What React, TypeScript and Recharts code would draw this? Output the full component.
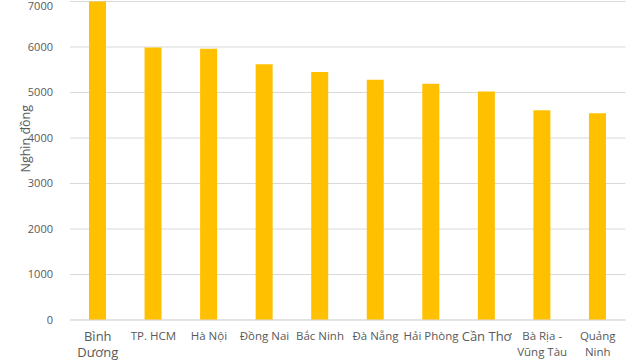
import { BarChart, Bar, XAxis, YAxis, CartesianGrid } from 'recharts';

// tỉnh / thành phố
const provinces = [
  'Bình\nDương',
  'TP. HCM',
  'Hà Nội',
  'Đồng Nai',
  'Bắc Ninh',
  'Đà Nẵng',
  'Hải Phòng',
  'Cần Thơ',
  'Bà Rịa -\nVũng Tàu',
  'Quảng\nNinh',
];

// thu nhập bình quân (nghìn đồng)
const incomes = [7000, 5990, 5960, 5620, 5450, 5280, 5195, 5020, 4610, 4545];

const yTicks = [0, 1000, 2000, 3000, 4000, 5000, 6000, 7000];

const data = provinces.map((name, i) => ({ name, value: incomes[i] }));

// hai nhãn này trong ảnh gốc có cỡ chữ lớn hơn
const bigLabels = ['Bình\nDương', 'Cần Thơ'];

const FONT = '"Open Sans", "Noto Sans", sans-serif';

const CategoryTick = (props: any) => {
  const { x, y, payload } = props;
  const lines = String(payload.value).split('\n');
  const big = bigLabels.includes(payload.value);
  return (
    <text
      x={x}
      y={y}
      textAnchor="middle"
      fill="#595959"
      fontFamily={FONT}
      fontSize={big ? 13 : 11.5}
    >
      {lines.map((line, i) => (
        <tspan key={i} x={x} dy={i === 0 ? (big ? 13 : 12) : (big ? 15.5 : 16)}>
          {line}
        </tspan>
      ))}
    </text>
  );
};

export default function App() {
  return (
    <div style={{ position: 'absolute', left: 0, top: 0, width: 633, height: 363, background: '#fff' }}>
      <BarChart
        width={633}
        height={363}
        data={data}
        margin={{ top: 1.5, right: 7.5, bottom: 0, left: 10 }}
        barCategoryGap={0}
      >
        <CartesianGrid vertical={false} stroke="#d9d9d9" strokeWidth={1} />
        <XAxis
          dataKey="name"
          height={43}
          interval={0}
          axisLine={{ stroke: '#d9d9d9' }}
          tickLine={false}
          tick={<CategoryTick />}
        />
        <YAxis
          width={60}
          domain={[0, 7000]}
          ticks={yTicks}
          axisLine={false}
          tickLine={false}
          tickMargin={11}
          tick={{ fill: '#595959', fontSize: 11, fontFamily: FONT }}
          label={({ viewBox }: any) => (
            <text
              x={viewBox.x + 15}
              y={viewBox.y + viewBox.height / 2 - 22}
              transform={`rotate(-90, ${viewBox.x + 15}, ${viewBox.y + viewBox.height / 2 - 22})`}
              textAnchor="middle"
              dominantBaseline="central"
              fill="#595959"
              fontFamily={FONT}
              fontSize={12.5}
            >
              Nghìn đồng
            </text>
          )}
        />
        <Bar dataKey="value" fill="#FFC000" barSize={17} isAnimationActive={false} />
      </BarChart>
    </div>
  );
}
